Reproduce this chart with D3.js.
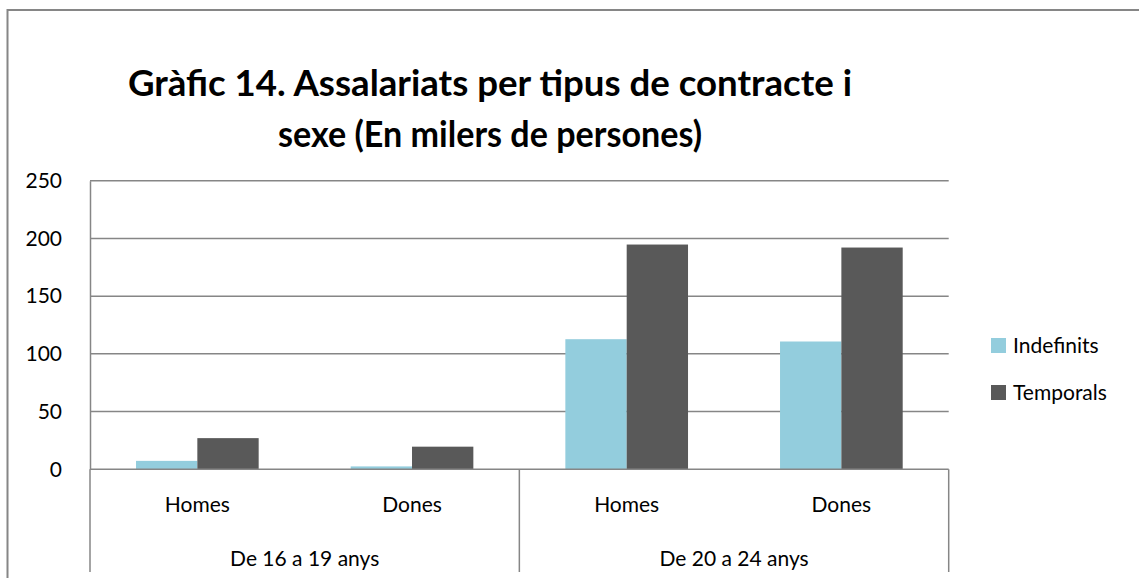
<!DOCTYPE html>
<html>
<head>
<meta charset="utf-8">
<script src="https://cdn.jsdelivr.net/npm/d3@7"></script>
<style>
  body { margin: 0; background: #fff; }
  svg { display: block; font-family: Lato, "Open Sans", sans-serif; }
</style>
</head>
<body>
<svg id="chart" width="1139" height="578"></svg>
<script>
// data
const groups = ['De 16 a 19 anys', 'De 20 a 24 anys']
const sexes = ['Homes', 'Dones']
const series = ['Indefinits', 'Temporals']
const indefinits = [7.3, 2.5, 112.7, 110.7]
const temporals = [27, 19.6, 194.7, 192.1]
const yTicks = [0, 50, 100, 150, 200, 250]

const WIDTH = 1139
const HEIGHT = 578
const svg = d3.select('#chart')
const GRID = '#868686'
const colors = { Indefinits: '#93cddd', Temporals: '#595959' }

// categories: group x sex
const cats = []
groups.forEach((g, gi) => sexes.forEach((s, si) => cats.push({ id: gi + '-' + s, group: g, sex: s })))
const rows = cats.map((c, i) => ({ ...c, Indefinits: indefinits[i], Temporals: temporals[i] }))

const plotLeft = 90, plotRight = 948.7, plotTop = 180.7, plotBottom = 469.3

const x0 = d3.scaleBand().domain(cats.map(c => c.id)).range([plotLeft, plotRight]).padding(0)
const x1 = d3.scaleBand().domain(series).range([0, x0.bandwidth()]).paddingInner(0).paddingOuter(0.75)
const y = d3.scaleLinear().domain([0, 250]).range([plotBottom, plotTop])

// outer chart border (clipped at right and bottom)
svg.append('path')
  .attr('d', `M7.5,${HEIGHT + 5} V10 H${WIDTH + 5}`)
  .attr('fill', 'none')
  .attr('stroke', GRID)
  .attr('stroke-width', 2)

// title
const title = svg.append('text')
  .attr('text-anchor', 'middle')
  .attr('font-weight', 'bold')
  .attr('font-size', 37)
  .attr('fill', '#000')
title.append('tspan').attr('x', 490).attr('y', 96)
  .attr('textLength', 724).attr('lengthAdjust', 'spacingAndGlyphs')
  .text('Gràfic 14. Assalariats per tipus de contracte i')
title.append('tspan').attr('x', 490).attr('y', 147)
  .attr('textLength', 424).attr('lengthAdjust', 'spacingAndGlyphs')
  .text('sexe (En milers de persones)')

// gridlines
svg.append('g')
  .selectAll('line')
  .data(yTicks.slice(1))
  .join('line')
  .attr('x1', plotLeft).attr('x2', plotRight)
  .attr('y1', d => y(d)).attr('y2', d => y(d))
  .attr('stroke', GRID).attr('stroke-width', 1.5)

// y axis
const yAxis = svg.append('g')
  .attr('transform', `translate(${plotLeft},0)`)
  .call(d3.axisLeft(y).tickValues(yTicks).tickSize(0).tickPadding(28))
yAxis.select('.domain').attr('stroke', GRID).attr('stroke-width', 1.5)
yAxis.selectAll('text').attr('font-size', 21).attr('fill', '#000').attr('font-family', 'Lato, sans-serif')

// bars
const bars = svg.append('g')
  .selectAll('g')
  .data(rows)
  .join('g')
  .attr('transform', d => `translate(${x0(d.id)},0)`)
bars.selectAll('rect')
  .data(d => series.map(k => ({ key: k, value: d[k] })))
  .join('rect')
  .attr('x', d => x1(d.key))
  .attr('width', x1.bandwidth())
  .attr('y', d => y(d.value))
  .attr('height', d => y(0) - y(d.value))
  .attr('fill', d => colors[d.key])

// x axis line
svg.append('line')
  .attr('x1', plotLeft).attr('x2', plotRight)
  .attr('y1', plotBottom).attr('y2', plotBottom)
  .attr('stroke', GRID).attr('stroke-width', 1.5)

// group separators
const bounds = [0, sexes.length, cats.length].map(i => i < cats.length ? x0(cats[i].id) : plotRight)
svg.append('g')
  .selectAll('line')
  .data(bounds)
  .join('line')
  .attr('x1', d => d).attr('x2', d => d)
  .attr('y1', plotBottom).attr('y2', 572)
  .attr('stroke', GRID).attr('stroke-width', 1.5)

// sex labels
svg.append('g')
  .selectAll('text')
  .data(cats)
  .join('text')
  .attr('x', d => x0(d.id) + x0.bandwidth() / 2)
  .attr('y', 512)
  .attr('text-anchor', 'middle')
  .attr('font-size', 21)
  .text(d => d.sex)

// group labels
svg.append('g')
  .selectAll('text')
  .data(groups)
  .join('text')
  .attr('x', (g, gi) => (bounds[gi] + bounds[gi + 1]) / 2)
  .attr('y', 566)
  .attr('text-anchor', 'middle')
  .attr('font-size', 21)
  .text(d => d)

// legend
const legend = svg.append('g').attr('transform', 'translate(991,338)')
legend.selectAll('rect')
  .data(series)
  .join('rect')
  .attr('y', (d, i) => i * 47)
  .attr('width', 15).attr('height', 15)
  .attr('fill', d => colors[d])
legend.selectAll('text')
  .data(series)
  .join('text')
  .attr('x', 22)
  .attr('y', (d, i) => i * 47 + 15)
  .attr('font-size', 21)
  .text(d => d)
</script>
</body>
</html>
